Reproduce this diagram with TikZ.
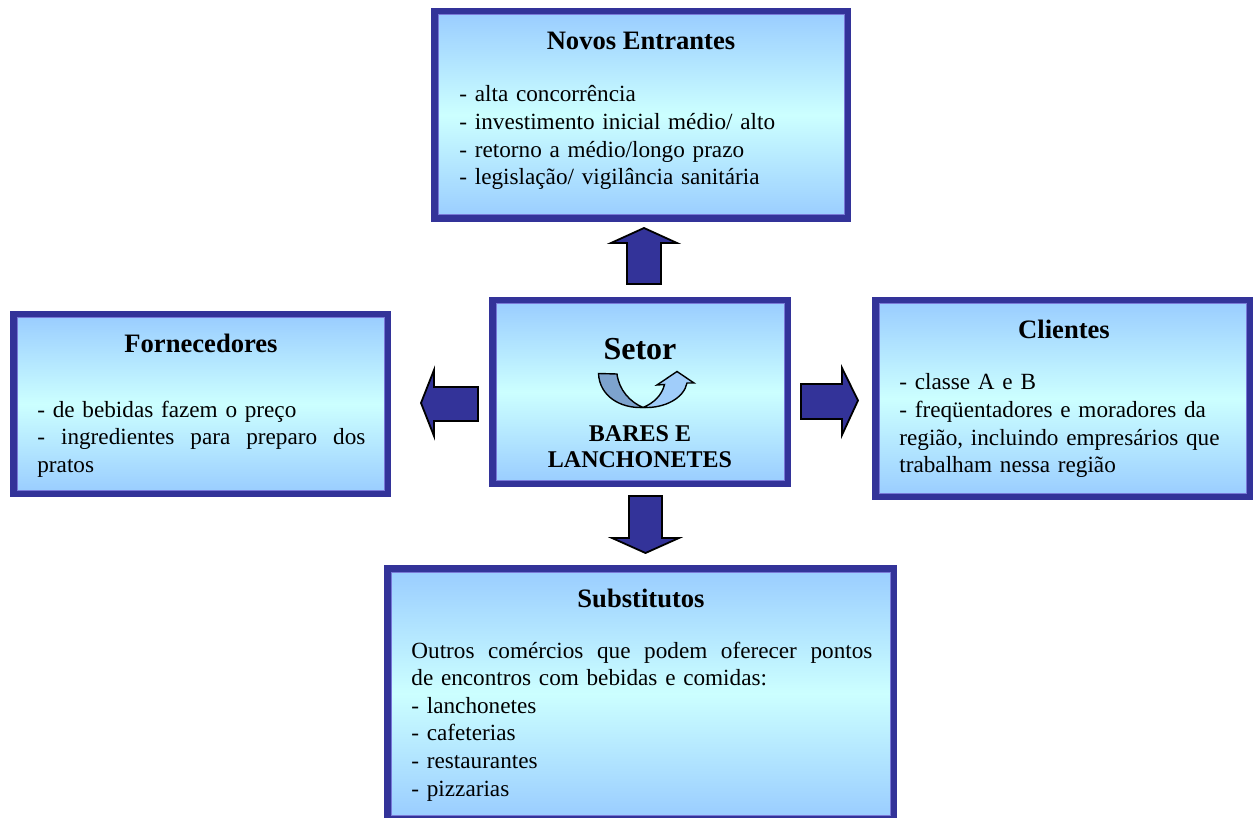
\documentclass[tikz,border=0pt]{standalone}
\usepackage{fontspec}
\setmainfont{Liberation Serif}
\usetikzlibrary{calc}

\definecolor{frameblue}{RGB}{51,51,153}
\definecolor{boxedge}{RGB}{153,204,255}
\definecolor{boxmid}{RGB}{204,255,255}
\definecolor{frameinner}{RGB}{120,120,215}
\definecolor{uturndark}{RGB}{125,163,206}
\definecolor{uturnlight}{RGB}{160,205,250}

\tikzset{
  forcebox/.style={rectangle, draw=frameblue, line width=3.5pt,
    top color=boxedge, bottom color=boxedge, middle color=boxmid,
    outer sep=0pt, inner sep=0pt},
  innerrim/.style={draw=frameinner, line width=0.5pt},
  titletext/.style={inner sep=0pt, font=\fontsize{13.3}{16}\selectfont\bfseries},
  bodytext/.style={inner sep=0pt, align=left, font=\fontsize{11.6}{13.8}\selectfont},
  blockarrow/.style={fill=frameblue, draw=black, line width=0.9pt, line join=miter},
  uturn/.style={draw=black, line width=0.7pt, line join=miter}
}

\newcommand{\rim}[1]{%
  \draw[innerrim] ([shift={(3.5,3.5)}]#1.north west) rectangle ([shift={(-3.5,-3.5)}]#1.south east);}
% a line whose words are spread over the full given width
\newcommand{\fullline}[2]{\leavevmode\hbox to #1{#2}}

\begin{document}
\begin{tikzpicture}[x=0.5pt,y=-0.5pt]
\useasboundingbox (0,0) rectangle (1254,818);

% the five boxes
\node[forcebox, minimum width=206.5pt, minimum height=103.5pt] (entrantes) at (641,115) {};
\node[forcebox, minimum width=147.5pt, minimum height=91.5pt] (setor) at (640,392) {};
\node[forcebox, minimum width=187pt, minimum height=89.5pt] (fornecedores) at (200.5,404) {};
\node[forcebox, minimum width=187pt, minimum height=98pt] (clientes) at (1062.5,398.5) {};
\node[forcebox, minimum width=253pt, minimum height=125pt] (substitutos) at (640.5,693.5) {};
\rim{entrantes}\rim{setor}\rim{fornecedores}\rim{clientes}\rim{substitutos}

% Novos Entrantes
\node[titletext, anchor=base] (entrantesTitle) at (641,50) {Novos Entrantes};
\node[bodytext, text width=200pt, anchor=base west] (entrantesBody) at (459,102)
  {- alta concorrência\\- investimento inicial médio/ alto\\- retorno a médio/longo prazo\\- legislação/ vigilância sanitária};

% Fornecedores
\node[titletext, anchor=base] (fornecedoresTitle) at (201,353) {Fornecedores};
\node[bodytext, text width=164pt, anchor=base west] (fornecedoresBody) at (37,417)
  {- de bebidas fazem o preço\\\fullline{164pt}{-\hfill ingredientes\hfill para\hfill preparo\hfill dos}\\pratos};

% Clientes
\node[titletext, anchor=base] (clientesTitle) at (1064,339) {Clientes};
\node[bodytext, text width=175pt, anchor=base west] (clientesBody) at (899,390)
  {- classe A e B\\- freqüentadores e moradores da\\região, incluindo empresários que\\trabalham nessa região};

% Substitutos
\node[titletext, anchor=base] (substitutosTitle) at (641,607) {Substitutos};
\node[bodytext, text width=230.5pt, anchor=base west] (substitutosBody) at (411,658)
  {\fullline{230.5pt}{Outros\hfill comércios\hfill que\hfill podem\hfill oferecer\hfill pontos}\\de encontros com bebidas e comidas:\\- lanchonetes\\- cafeterias\\- restaurantes\\- pizzarias};

% Setor
\node[inner sep=0pt, anchor=base, font=\fontsize{16}{19}\selectfont\bfseries] (setorTitle) at (640,360) {Setor};
\node[inner sep=0pt, anchor=base, align=center, font=\fontsize{12}{13}\selectfont\bfseries] (setorName) at (640,467) {BARES E\\LANCHONETES};

% U-turn arrow under the sector title
\coordinate (uBottom) at (643,407.5);
\draw[uturn, fill=uturnlight] (uBottom) .. controls (654,403) and (662,395) .. (664.5,384.5)
  -- (657,385) -- (677,371.5) -- (694,383) -- (687,383)
  .. controls (684,398) and (665,408.5) .. (uBottom) -- cycle;
\draw[uturn, fill=uturndark] (598.5,373.5) -- (617,374)
  .. controls (619,390) and (630,402) .. (uBottom)
  .. controls (620,408.5) and (599.5,396) .. (598.5,373.5) -- cycle;

% block arrows from the sector to each force
\coordinate (upTip) at (644,228);
\draw[blockarrow] (upTip) -- ++(33,15) -- ++(-16,0) -- ++(0,41) -- ++(-34,0) -- ++(0,-41) -- ++(-16,0) -- cycle;
\coordinate (downTip) at (645.5,553);
\draw[blockarrow] (downTip) -- ++(33.5,-15) -- ++(-17,0) -- ++(0,-42) -- ++(-33,0) -- ++(0,42) -- ++(-17,0) -- cycle;
\coordinate (rightTip) at (858,400.5);
\draw[blockarrow] (rightTip) -- ++(-16,-32.5) -- ++(0,16) -- ++(-41,0) -- ++(0,35) -- ++(41,0) -- ++(0,16) -- cycle;
\coordinate (leftTip) at (421,403);
\draw[blockarrow] (leftTip) -- ++(13,-33) -- ++(0,17) -- ++(44,0) -- ++(0,34) -- ++(-44,0) -- ++(0,15) -- cycle;
\end{tikzpicture}
\end{document}
